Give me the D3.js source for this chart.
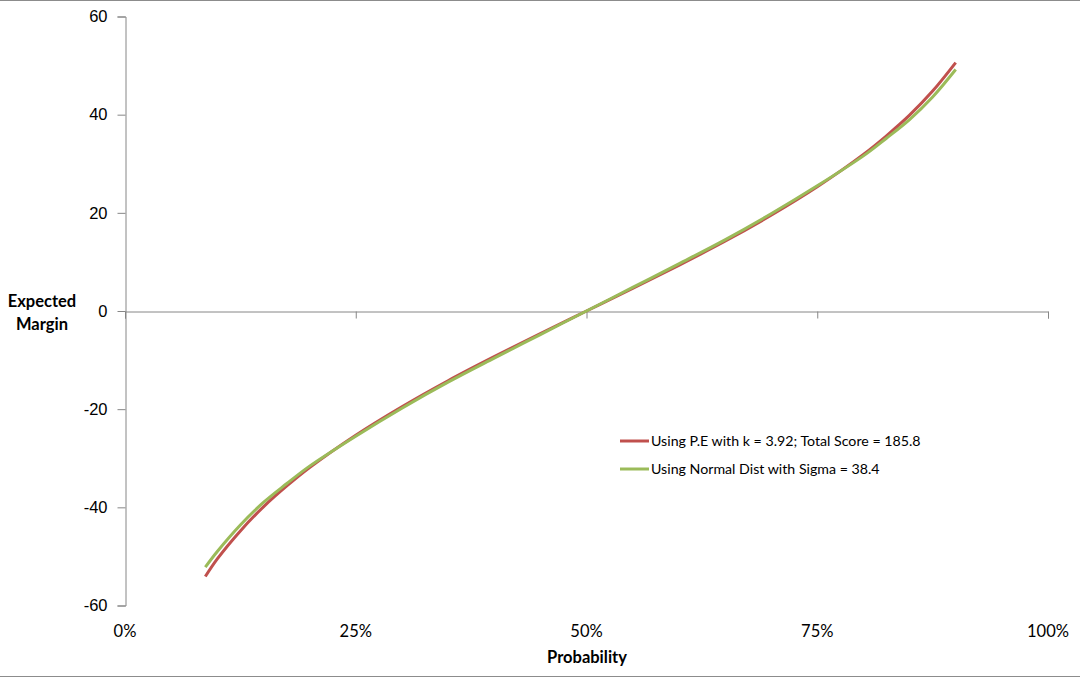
<!DOCTYPE html>
<html>
<head>
<meta charset="utf-8">
<script src="https://cdn.jsdelivr.net/npm/d3@7/dist/d3.min.js"></script>
<style>
  html, body { margin: 0; padding: 0; background: #fff; }
  svg { display: block; font-family: Lato, "Open Sans", sans-serif; }
</style>
</head>
<body>
<div id="chart"></div>
<script>
var width = 1080;
var height = 677;

// values
var probs = [0.087, 0.10, 0.125, 0.15, 0.175, 0.20, 0.25, 0.30, 0.35, 0.40, 0.45, 0.50,
             0.55, 0.60, 0.65, 0.70, 0.75, 0.80, 0.825, 0.85, 0.875, 0.90];
var peMargin = [-54.1, -50.5, -44.8, -39.9, -35.7, -31.9, -25.3, -19.5, -14.2, -9.3, -4.6, 0,
                4.6, 9.3, 14.2, 19.5, 25.3, 31.9, 35.7, 39.9, 44.8, 50.6];
var normMargin = [-52.2, -49.0, -43.6, -39.0, -35.2, -31.6, -25.5, -19.8, -14.5, -9.6, -4.8, 0,
                  4.8, 9.6, 14.5, 19.8, 25.5, 31.6, 35.2, 39.0, 43.6, 49.2];

var seriesNames = ["Using P.E with k = 3.92; Total Score = 185.8",
                   "Using Normal Dist with Sigma = 38.4"];
var seriesColors = ["#C0504D", "#9BBB59"];
var xTicks = [0, 0.25, 0.5, 0.75, 1];
var yTicks = [-60, -40, -20, 0, 20, 40, 60];

var svg = d3.select("#chart").append("svg")
  .attr("width", width)
  .attr("height", height);

// frame lines top / bottom
svg.append("line").attr("x1", 0).attr("x2", width).attr("y1", 0.5).attr("y2", 0.5)
  .style("stroke", "#8c8c8c").style("stroke-width", 1);
svg.append("line").attr("x1", 0).attr("x2", width).attr("y1", 676.5).attr("y2", 676.5)
  .style("stroke", "#8c8c8c").style("stroke-width", 1);

var x = d3.scaleLinear().domain([0, 1]).range([125, 1048]);
var y = d3.scaleLinear().domain([-60, 60]).range([605.5, 16.5]);

// y axis
var yAxis = svg.append("g")
  .attr("transform", "translate(" + 125.5 + ",0)")
  .call(d3.axisLeft(y).tickValues(yTicks).tickSize(8).tickPadding(10).tickFormat(d3.format("d")));
yAxis.select(".domain").attr("stroke", "#868686");
yAxis.selectAll(".tick line").attr("stroke", "#868686");
yAxis.selectAll(".tick text").style("font-size", "16.5px").attr("fill", "#000")
  .text(function(d){ return d < 0 ? "-" + Math.abs(d) : d; });

// x axis sits on zero line, labels at bottom
var xAxis = svg.append("g")
  .attr("transform", "translate(0," + (Math.round(y(0)) + 0.5) + ")")
  .call(d3.axisBottom(x).tickValues(xTicks).tickSize(7).tickFormat(""));
xAxis.select(".domain").attr("stroke", "#868686");
xAxis.selectAll(".tick line").attr("stroke", "#868686");

svg.selectAll("text.xlab").data(xTicks).enter().append("text")
  .attr("class", "xlab")
  .attr("x", function(d){ return x(d); })
  .attr("y", 637)
  .attr("text-anchor", "middle")
  .style("font-size", "16.5px")
  .text(function(d){ return d3.format(".0%")(d); });

// axis titles
svg.append("text")
  .attr("x", 587).attr("y", 663)
  .attr("text-anchor", "middle")
  .style("font-size", "16.5px").style("font-weight", "bold")
  .text("Probability");

var yTitle = svg.append("text")
  .attr("text-anchor", "middle")
  .style("font-size", "16.5px").style("font-weight", "bold");
yTitle.append("tspan").attr("x", 42).attr("y", 307).text("Expected");
yTitle.append("tspan").attr("x", 42).attr("y", 330).text("Margin");

// curves
var line = d3.line()
  .x(function(d){ return x(d[0]); })
  .y(function(d){ return y(d[1]); })
  .curve(d3.curveCatmullRom);

var allSeries = [peMargin, normMargin];
allSeries.forEach(function(vals, i){
  svg.append("path")
    .datum(probs.map(function(p, j){ return [p, vals[j]]; }))
    .attr("d", line)
    .style("fill", "none")
    .style("stroke", seriesColors[i])
    .style("stroke-width", 3);
});

// legend
var legend = svg.append("g").attr("transform", "translate(620,441)");
seriesNames.forEach(function(name, i){
  var g = legend.append("g").attr("transform", "translate(0," + (i * 28) + ")");
  g.append("line").attr("x1", 0).attr("x2", 29).attr("y1", 0).attr("y2", 0)
    .style("stroke", seriesColors[i]).style("stroke-width", 3);
  g.append("text").attr("x", 31).attr("y", 5)
    .style("font-size", "14.2px")
    .text(name);
});
</script>
</body>
</html>
